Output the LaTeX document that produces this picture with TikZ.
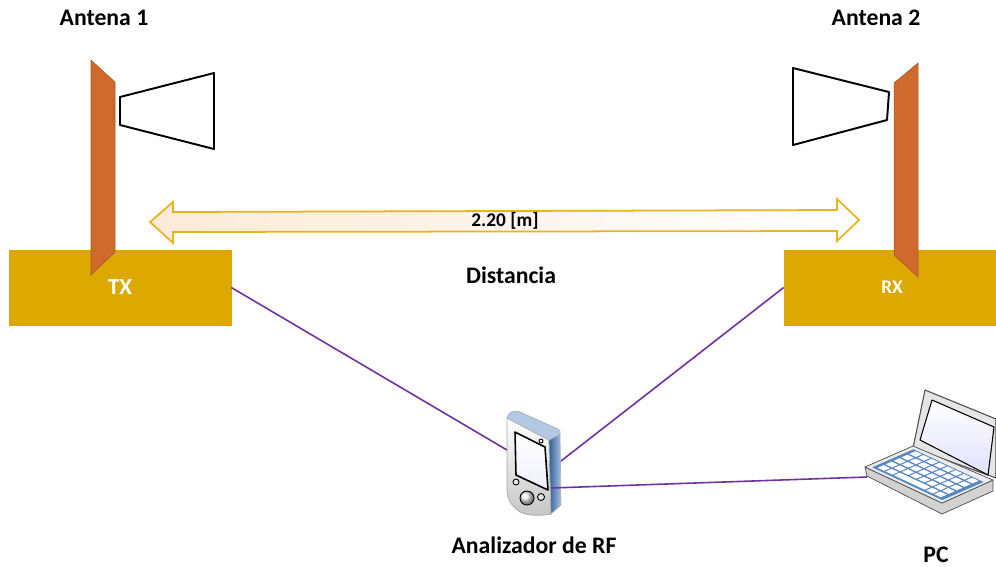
\documentclass[tikz,border=0pt]{standalone}
\usepackage{fontspec}
\setmainfont{Carlito}
\usetikzlibrary{calc}
\definecolor{txgold}{RGB}{221,168,0}
\definecolor{mastorange}{RGB}{208,106,44}
\definecolor{linkpurple}{RGB}{112,48,160}
\definecolor{arrowgold}{RGB}{234,178,30}
\definecolor{peach}{RGB}{252,234,216}
\definecolor{pdablue}{RGB}{60,120,190}
\definecolor{kbblue}{RGB}{84,134,196}

\begin{document}
\begin{tikzpicture}[
  x=0.02cm, y=-0.02cm,
  namefont/.style={font=\fontsize{13.5}{15}\selectfont\bfseries},
  basebox/.style={draw=txgold!80!orange, fill=txgold, inner sep=0pt, text=white,
                  minimum height=1.5cm},
  mast/.style={fill=mastorange, draw=mastorange!80!black, line width=0.3pt},
  horn/.style={draw=black, fill=white, line width=1.1pt, line join=round},
  link/.style={linkpurple, line width=0.9pt},
  distarrow/.style={draw=arrowgold, line width=1pt, left color=peach, right color=white},
  keycap/.style={fill=white, draw=none},
]
  \useasboundingbox (0,0) rectangle (996,566);

  % Transmitter: base, mast and horn
  \node[basebox, minimum width=4.44cm, font=\fontsize{13}{15}\selectfont\bfseries] (tx) at (120,287.5) {TX};
  \draw[mast] (91,60) -- (115,82) -- (115,252) -- (91,275) -- cycle;
  \draw[horn] (120,97) -- (214,73) -- (214,149) -- (120,125) -- cycle;
  \node[namefont] (ant1) at (104,18) {Antena 1};

  % Receiver: base, mast and horn
  \node[basebox, minimum width=4.32cm, font=\fontsize{11}{13}\selectfont\bfseries] (rx) at (892,287.5) {RX};
  \draw[mast] (894,83) -- (918,63) -- (918,277) -- (894,255) -- cycle;
  \draw[horn] (889,92) -- (793,68) -- (793,145) -- (887,120) -- cycle;
  \node[namefont] (ant2) at (876,18) {Antena 2};

  % Distance arrow
  \draw[distarrow] (150,222) -- (173,202) -- (173,212) -- (837,210) -- (837,199)
    -- (859,220) -- (837,241) -- (837,231) -- (173,232) -- (173,243) -- cycle;
  \node[font=\fontsize{11}{13}\selectfont\bfseries] (gap) at (505,221) {2.20 [m]};
  \node[namefont] (dist) at (511,275) {Distancia};

  % Handheld RF analyzer
  \begin{scope}[line join=round]
    \draw[gray!70, top color=white, bottom color=gray!45] (507,418) -- (549,440) -- (551,514)
      .. controls (540,516) and (528,516) .. (520,512)
      .. controls (510,505) and (507,498) .. (507,490) -- cycle;
    \draw[gray!60, left color=pdablue!80!black, right color=pdablue!45!white]
      (549,440) -- (560,434) -- (561,505) -- (551,514) -- cycle;
    \draw[gray!60, fill=pdablue!40!white] (507,418) .. controls (509,411) and (514,410) .. (520,412)
      -- (556,428) .. controls (560,430) and (561,432) .. (560,434) -- (549,440) -- cycle;
    \draw[black, line width=0.9pt, top color=white, bottom color=blue!6]
      (515,432) -- (545,447) -- (548,490) -- (516,475) -- cycle;
    \draw[fill=white, line width=0.5pt] (541,441) circle (2);
    \draw[fill=gray!20, line width=0.5pt] (516,482) circle (3);
    \draw[ball color=gray!15, line width=0.5pt] (527,498) circle (7);
    \draw[fill=gray!20, line width=0.5pt] (541,497) circle (3.5);
  \end{scope}
  \coordinate (pdaL) at (507,450);
  \coordinate (pdaR) at (561,461);
  \coordinate (pdaO) at (551,488);
  \node[namefont] (rfa) at (534,545) {Analizador de RF};

  % Laptop
  \begin{scope}[line join=round]
    \draw[gray!60!black, fill=gray!20, line width=0.6pt] (913,448) -- (925,390) -- (996,419) -- (996,478) -- cycle;
    \draw[black, line width=0.6pt, top color=white, bottom color=blue!12]
      (920,440) -- (932,400) -- (994,427) -- (988,475) -- cycle;
    \draw[gray!60!black, fill=gray!35] (865,467) -- (867,476) -- (942,514) -- (993,491)
      -- (993,480) -- (942,503) -- cycle;
    \draw[gray!60!black, fill=gray!15] (865,467) -- (913,446) -- (993,480) -- (942,503) -- cycle;
  \end{scope}
  \begin{scope}[shift={(865,467)}, x={(1.54cm,-0.72cm)}, y={(0.96cm,0.42cm)}]
    \fill[kbblue] (0.05,0.07) -- (0.96,0.07) -- (0.96,0.93) -- (0.05,0.93) -- cycle;
    \foreach \r in {1,...,4}
      \foreach \c in {0,...,7}
        \fill[keycap] ({0.09+\c*0.105},{0.12+\r*0.165}) -- ++(0.085,0) -- ++(0,0.125) -- ++(-0.085,0) -- cycle;
    \foreach \c in {0,1,6,7}
      \fill[keycap] ({0.09+\c*0.105},0.12) -- ++(0.085,0) -- ++(0,0.125) -- ++(-0.085,0) -- cycle;
    \fill[keycap] (0.30,0.12) -- (0.70,0.12) -- (0.70,0.245) -- (0.30,0.245) -- cycle;
  \end{scope}
  \coordinate (pcIn) at (867,477);
  \node[namefont] (pc) at (936,555) {PC};

  % Cabling
  \draw[link] (tx.east) -- (pdaL);
  \draw[link] (rx.west) -- (pdaR);
  \draw[link] (pdaO) -- (pcIn);
\end{tikzpicture}
\end{document}
